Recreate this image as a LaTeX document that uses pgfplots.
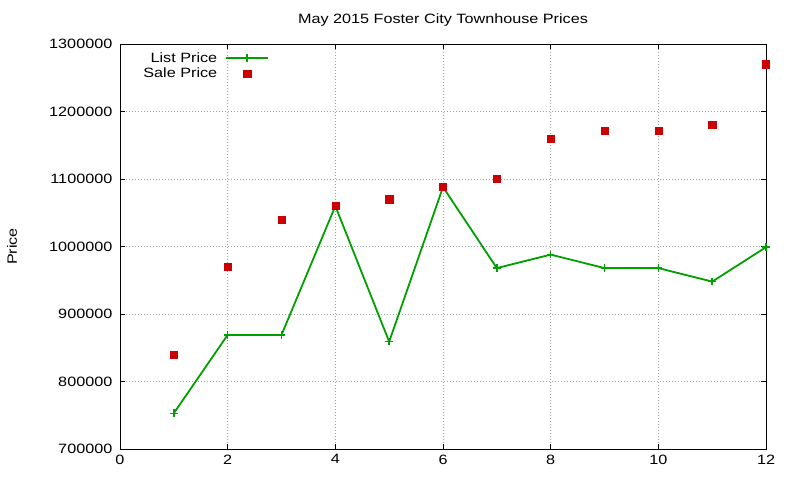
\documentclass[border=0pt]{standalone}
\usepackage{fontspec}
\setmainfont{Liberation Sans}[FakeStretch=1.2]
\usepackage{pgfplots}
\pgfplotsset{compat=1.18}
\definecolor{gpgreen}{RGB}{0,160,0}
\definecolor{gpred}{RGB}{204,0,0}
\begin{document}
\fontsize{13.5bp}{16bp}\selectfont
\begin{tikzpicture}[x=1bp,y=1bp]
\useasboundingbox (0,0) rectangle (800,480);
\begin{axis}[
  at={(120bp,31bp)}, anchor=south west,
  scale only axis, width=646bp, height=405bp,
  xmin=0, xmax=12, ymin=700000, ymax=1300000,
  xtick={0,2,...,12}, ytick={700000,800000,...,1300000},
  scaled y ticks=false,
  /pgf/number format/.cd, fixed, 1000 sep={}, assume math mode=true, /pgfplots/.cd,
  tick align=inside, major tick length=5bp,
  xtick pos=both, ytick pos=both,
  grid=major,
  major grid style={gray!75, dash pattern=on 1bp off 2bp, line width=0.7pt},
  axis line style={black, line width=0.9pt},
  tick style={black, line width=0.7pt},
  yticklabel style={xshift=-3bp},
  xticklabel style={yshift=-1bp},
  title={May 2015 Foster City Townhouse Prices},
  title style={at={(0.5,1)}, anchor=south, yshift=7bp},
  ylabel={Price},
  ylabel style={at={(axis description cs:-0.167,0.5)}, anchor=center, rotate=0},
  legend cell align=right,
  legend plot pos=right,
  legend image code/.code={\draw[mark repeat=2,mark phase=2,#1] plot coordinates {(0bp,0bp)(21bp,0bp)(42bp,0bp)};},
  legend style={at={(axis description cs:0.231,0.985)}, anchor=north east, draw=none, fill=none,
    row sep=0bp, column sep=6bp, inner sep=0pt, font=\fontsize{13.5bp}{16bp}\selectfont},
]
\addplot[gpgreen, line width=1.8pt, mark=+, mark size=3.8bp, mark options={line width=1.4pt}]
  coordinates {(1,753000) (2,869000) (3,869000) (4,1060000) (5,859000) (6,1088000)
               (7,968000) (8,988000) (9,968000) (10,968000) (11,948000) (12,999000)};
\addlegendentry{List Price}
\addplot[only marks, mark=square*, mark size=3.6bp, gpred, mark options={draw=gpred, fill=gpred}]
  coordinates {(1,840000) (2,970000) (3,1040000) (4,1060000) (5,1070000) (6,1088000)
               (7,1100000) (8,1160000) (9,1172000) (10,1172000) (11,1180000) (12,1270000)};
\addlegendentry{Sale Price}
\end{axis}
\end{tikzpicture}
\end{document}
